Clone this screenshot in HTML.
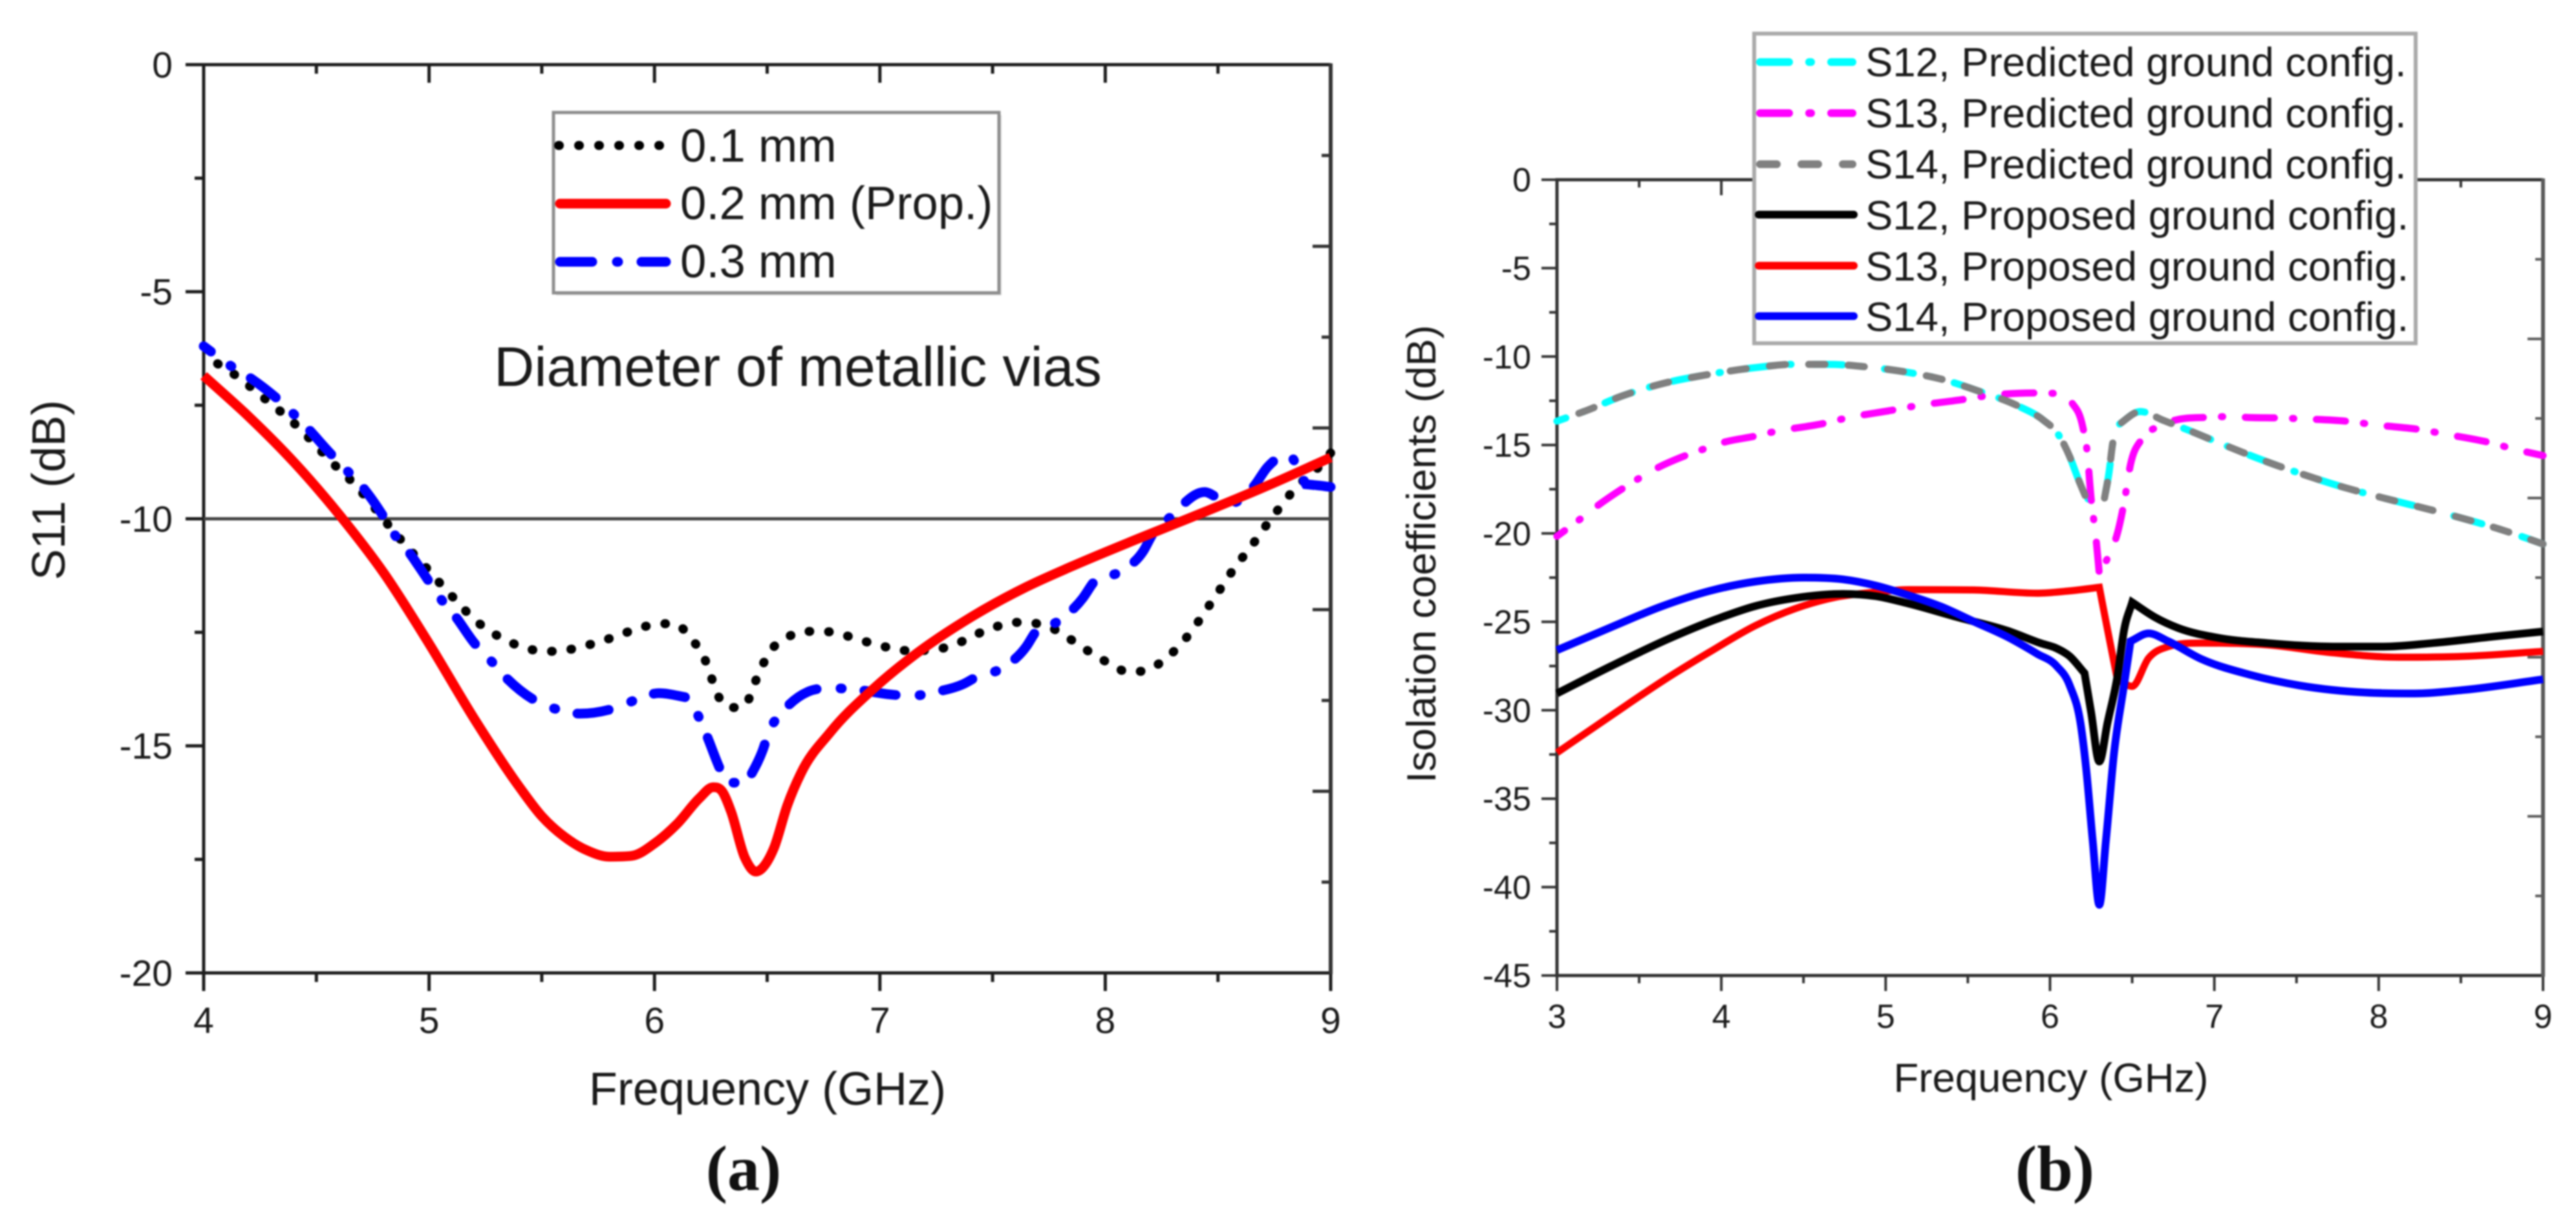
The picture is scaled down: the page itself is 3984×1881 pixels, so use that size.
<!DOCTYPE html>
<html lang="en">
<head>
<meta charset="utf-8">
<title>S11 and isolation coefficients charts</title>
<style>
html,body{margin:0;padding:0;background:#fff;width:3984px;height:1881px;overflow:hidden}
svg{display:block;filter:blur(1.3px)}
text{font-family:"Liberation Sans",sans-serif;fill:#1a1a1a}
.cap{font-family:"Liberation Serif",serif;font-weight:bold;font-size:100px;fill:#111}
</style>
</head>
<body>
<svg id="fig" xmlns="http://www.w3.org/2000/svg" width="3984" height="1881" viewBox="0 0 3984 1881">
  <rect x="0" y="0" width="3984" height="1881" fill="#fff"/>
  <g id="panelA"></g>
  <g id="panelB"></g>

  <g>
    <rect x="860" y="178" width="689" height="279" fill="#ddd"/>
    <rect x="856" y="174" width="689" height="279" fill="#fff" stroke="#8e8e8e" stroke-width="5"/>
    <g>
      <line x1="864" y1="225" x2="1030" y2="225" stroke="#000" stroke-width="14" stroke-linecap="round" stroke-dasharray="1 30"/>
      <text x="1052" y="250" font-size="72.5">0.1 mm</text>
    </g>
    <g>
      <line x1="866" y1="315" x2="1030" y2="315" stroke="#f00" stroke-width="15" stroke-linecap="round"/>
      <text x="1052" y="339" font-size="72.5">0.2 mm (Prop.)</text>
    </g>
    <g>
      <line x1="866" y1="405" x2="1030" y2="405" stroke="#00f" stroke-width="15" stroke-linecap="round" stroke-dasharray="50 38 2 36"/>
      <text x="1052" y="429" font-size="72.5">0.3 mm</text>
    </g>
  </g>
  <text x="764" y="597" font-size="86.3">Diameter of metallic vias</text>
  <text class="cap" x="1150" y="1841" text-anchor="middle">(a)</text>

  <g>
    <rect x="2713" y="52" width="1023" height="479" fill="#fff" stroke="#aaa" stroke-width="6"/>
    <g>
      <line x1="2722" y1="96" x2="2865" y2="96" stroke="#0ff" stroke-width="12" stroke-linecap="round" stroke-dasharray="45 31 3 31"/>
      <text x="2885" y="118" font-size="63.5">S12, Predicted ground config.</text>
    </g>
    <g>
      <line x1="2722" y1="175" x2="2865" y2="175" stroke="#f0f" stroke-width="12" stroke-linecap="round" stroke-dasharray="45 31 3 31"/>
      <text x="2885" y="197" font-size="63.5">S13, Predicted ground config.</text>
    </g>
    <g>
      <line x1="2722" y1="254" x2="2865" y2="254" stroke="#808080" stroke-width="12" stroke-linecap="round" stroke-dasharray="26 38"/>
      <text x="2885" y="276" font-size="63.5">S14, Predicted ground config.</text>
    </g>
    <g>
      <line x1="2720" y1="332" x2="2867" y2="332" stroke="#000" stroke-width="12" stroke-linecap="round"/>
      <text x="2885" y="355" font-size="63.5">S12, Proposed ground config.</text>
    </g>
    <g>
      <line x1="2720" y1="411" x2="2867" y2="411" stroke="#f00" stroke-width="12" stroke-linecap="round"/>
      <text x="2885" y="434" font-size="63.5">S13, Proposed ground config.</text>
    </g>
    <g>
      <line x1="2720" y1="489" x2="2867" y2="489" stroke="#00f" stroke-width="12" stroke-linecap="round"/>
      <text x="2885" y="512" font-size="63.5">S14, Proposed ground config.</text>
    </g>
  </g>
  <text class="cap" x="3178" y="1841" text-anchor="middle">(b)</text>
</svg>

<script>
// Panel (a) data
const aXTicks = [4, 5, 6, 7, 8, 9];
const aYTicks = [0, -5, -10, -15, -20];
const aRightMajor = [0, -4, -8, -12, -16, -20];
const aRightMinor = [-2, -6, -10, -14, -18];
const aRefLevel = -10;

const a01Freq = [4,4.05,4.13,4.27,4.4,4.59,4.66,4.83,4.89,5.01,5.07,5.13,5.19,5.26,5.34,5.43,5.52,5.61,5.69,5.78,5.86,5.95,6.04,6.1,6.16,6.22,6.25,6.28,6.34,6.41,6.44,6.475,6.51,6.58,6.67,6.75,6.84,6.92,7.01,7.1,7.18,7.27,7.36,7.44,7.52,7.61,7.7,7.785,7.86,7.93,8.02,8.1,8.18,8.26,8.32,8.38,8.43,8.48,8.53,8.58,8.64,8.69,8.74,8.8,8.85,8.92,9];
const a01Vals = [-6.4,-6.55,-6.8,-7.35,-7.89,-8.86,-9.19,-10.2,-10.55,-11.2,-11.54,-11.85,-12.17,-12.44,-12.67,-12.85,-12.92,-12.89,-12.8,-12.67,-12.53,-12.38,-12.31,-12.33,-12.63,-13.05,-13.46,-13.87,-14.16,-14.09,-13.68,-13.27,-12.94,-12.64,-12.48,-12.48,-12.56,-12.68,-12.8,-12.9,-12.9,-12.86,-12.71,-12.52,-12.37,-12.28,-12.31,-12.46,-12.7,-12.93,-13.19,-13.37,-13.34,-13.11,-12.84,-12.49,-12.14,-11.77,-11.4,-11.03,-10.66,-10.31,-9.97,-9.59,-9.28,-9,-8.55];

const a02Freq = [4,4.2,4.4,4.6,4.8,5,5.2,5.4,5.5,5.6,5.7,5.8,5.9,6,6.1,6.2,6.26,6.3,6.34,6.4,6.45,6.5,6.53,6.59,6.65,6.78,6.97,7.14,7.41,7.65,7.85,8.14,8.44,8.73,9];
const a02Vals = [-6.85,-7.75,-8.75,-9.9,-11.2,-12.75,-14.4,-15.9,-16.55,-17,-17.3,-17.44,-17.42,-17.15,-16.72,-16.15,-15.91,-16,-16.45,-17.45,-17.77,-17.55,-17.25,-16.3,-15.6,-14.7,-13.75,-13.05,-12.15,-11.5,-11.05,-10.45,-9.85,-9.25,-8.65];

const a03Freq = [4,4.11,4.21,4.32,4.39,4.46,4.56,4.63,4.7,4.79,4.84,4.91,4.99,5.05,5.12,5.2,5.27,5.34,5.47,5.57,5.67,5.83,5.92,6.02,6.15,6.2,6.23,6.29,6.32,6.41,6.48,6.51,6.56,6.68,6.79,6.89,7.05,7.14,7.24,7.37,7.43,7.53,7.65,7.69,7.79,7.9,7.95,8.06,8.17,8.21,8.28,8.44,8.51,8.56,8.66,8.72,8.81,8.89,8.97,9];
const a03Vals = [-6.2,-6.6,-6.91,-7.33,-7.65,-8,-8.55,-8.91,-9.27,-9.89,-10.3,-10.73,-11.31,-11.75,-12.17,-12.73,-13.1,-13.49,-14,-14.2,-14.29,-14.16,-13.98,-13.84,-13.94,-14.4,-14.75,-15.5,-15.81,-15.81,-15.1,-14.66,-14.3,-13.81,-13.73,-13.76,-13.87,-13.9,-13.82,-13.64,-13.48,-13.32,-12.81,-12.5,-12.26,-11.75,-11.39,-11.18,-10.7,-10.34,-10,-9.41,-9.57,-9.65,-9.28,-8.86,-8.59,-9.24,-9.28,-9.3];

// Panel (b) data
const bXTicks = [3, 4, 5, 6, 7, 8, 9];
const bYTicks = [0, -5, -10, -15, -20, -25, -30, -35, -40, -45];
const bRightMajor = [0, -9, -18, -27, -36, -45];
const bRightMinor = [-4.5, -13.5, -22.5, -31.5, -40.5];

const bPredS12Freq = [3,3.18,3.39,3.63,3.93,4.23,4.43,4.65,4.9,5.14,5.34,5.56,5.8,5.96,6.05,6.12,6.17,6.22,6.28,6.33,6.36,6.38,6.41,6.55,6.69,6.82,7.06,7.32,7.52,7.79,8.03,8.33,8.53,8.77,9];
const bPredS12Vals = [-13.65,-13.05,-12.25,-11.56,-11,-10.6,-10.44,-10.44,-10.6,-10.9,-11.28,-11.93,-12.77,-13.6,-14.4,-15.66,-16.88,-18,-18.2,-18.08,-16.5,-15,-13.9,-13.11,-13.61,-14.08,-15.0,-15.95,-16.6,-17.4,-18,-18.7,-19.2,-19.86,-20.6];

const bPredS13Freq = [3,3.14,3.23,3.41,3.5,3.61,3.79,3.89,4.01,4.21,4.31,4.64,4.74,5.06,5.17,5.49,5.59,5.92,6.02,6.12,6.2,6.225,6.25,6.28,6.3,6.36,6.41,6.45,6.49,6.56,6.66,6.78,6.98,7.09,7.2,7.42,7.53,7.85,7.96,8.28,8.39,8.7,8.81,9];
const bPredS13Vals = [-20.16,-19.2,-18.55,-17.4,-16.88,-16.3,-15.57,-15.24,-14.86,-14.49,-14.27,-13.75,-13.52,-13,-12.81,-12.4,-12.25,-12.06,-12.08,-12.4,-14,-15.3,-18,-20.3,-22.3,-21.2,-20,-18.3,-16.1,-14.65,-13.95,-13.56,-13.43,-13.39,-13.44,-13.48,-13.52,-13.7,-13.84,-14.17,-14.36,-14.92,-15.2,-15.6];

const bPredS14Freq = [3,3.18,3.39,3.63,3.93,4.23,4.43,4.65,4.9,5.14,5.34,5.56,5.8,5.96,6.05,6.12,6.17,6.22,6.28,6.33,6.36,6.38,6.41,6.55,6.69,6.82,7.06,7.32,7.52,7.79,8.03,8.33,8.53,8.77,9];
const bPredS14Vals = [-13.65,-13.05,-12.25,-11.56,-11,-10.6,-10.44,-10.44,-10.6,-10.9,-11.28,-11.93,-12.77,-13.6,-14.4,-15.66,-16.88,-18,-18.2,-18.08,-16.5,-15,-13.9,-13.11,-13.61,-14.08,-15.0,-15.95,-16.6,-17.4,-18,-18.7,-19.2,-19.86,-20.6];

const bPropS12Freq = [3,3.33,3.67,3.97,4.21,4.45,4.74,4.94,5.14,5.44,5.74,5.94,6.04,6.12,6.21,6.25,6.3,6.35,6.41,6.45,6.5,6.64,6.78,7.02,7.32,7.72,8.03,8.33,8.73,9];
const bPropS12Vals = [-29.05,-27.5,-26,-24.85,-24.1,-23.65,-23.42,-23.55,-23.97,-24.75,-25.5,-26.2,-26.5,-26.95,-27.9,-30.1,-32.9,-30.7,-28.1,-25.5,-23.9,-24.75,-25.35,-25.9,-26.2,-26.4,-26.4,-26.2,-25.8,-25.55];

const bPropS13Freq = [3,3.33,3.65,3.93,4.21,4.45,4.7,4.94,5.14,5.54,5.92,6.12,6.3,6.35,6.41,6.5,6.6,6.72,6.92,7.32,7.72,8.12,8.52,9];
const bPropS13Vals = [-32.4,-30.3,-28.3,-26.7,-25.2,-24.25,-23.6,-23.32,-23.18,-23.2,-23.38,-23.25,-23.05,-25.45,-28.25,-28.65,-27.05,-26.4,-26.2,-26.3,-26.75,-27,-26.95,-26.67];

const bPropS14Freq = [3,3.33,3.63,3.93,4.21,4.5,4.74,4.94,5.14,5.34,5.54,5.74,5.92,6.04,6.12,6.19,6.22,6.26,6.3,6.34,6.39,6.45,6.49,6.6,6.72,6.92,7.22,7.52,7.92,8.22,8.52,9];
const bPropS14Vals = [-26.6,-25.3,-24.15,-23.25,-22.72,-22.5,-22.6,-22.95,-23.5,-24.15,-25,-25.85,-26.8,-27.5,-28.6,-31,-33.3,-37.4,-41,-37.4,-32.4,-28.6,-26.1,-25.65,-26.1,-27.1,-28,-28.6,-29,-29.05,-28.85,-28.25];

const SVGNS = 'http://www.w3.org/2000/svg';

function mk(parent, tag, props) {
  const el = document.createElementNS(SVGNS, tag);
  for (const k in props) el.setAttribute(k, props[k]);
  parent.appendChild(el);
  return el;
}

function linScale(d0, d1, r0, r1) {
  return v => r0 + (v - d0) * (r1 - r0) / (d1 - d0);
}

// Smooth path through the data; nodes where the slope changes abruptly stay as sharp corners
function curvePath(xs, ys) {
  const n = xs.length;
  const dx = [], m = [], tL = [], tR = [];
  for (let i = 0; i < n - 1; i++) {
    dx[i] = xs[i + 1] - xs[i];
    m[i] = (ys[i + 1] - ys[i]) / dx[i];
  }
  tR[0] = m[0];
  tL[n - 1] = m[n - 2];
  for (let i = 1; i < n - 1; i++) {
    const a = Math.abs(m[i - 1]), b = Math.abs(m[i]);
    const hi = Math.max(a, b), lo = Math.min(a, b);
    if (hi > 1.2 && hi > 5 * Math.max(lo, 0.02)) {
      tL[i] = m[i - 1];
      tR[i] = m[i];
    } else if (m[i - 1] * m[i] <= 0) {
      tL[i] = tR[i] = 0;
    } else {
      let t = (m[i - 1] * dx[i] + m[i] * dx[i - 1]) / (dx[i] + dx[i - 1]);
      if (Math.abs(t) > 3 * lo) t = Math.sign(t) * 3 * lo;
      tL[i] = tR[i] = t;
    }
  }
  let d = 'M' + xs[0].toFixed(1) + ' ' + ys[0].toFixed(1);
  for (let i = 0; i < n - 1; i++) {
    const h = dx[i] / 3;
    d += 'C' + (xs[i] + h).toFixed(1) + ' ' + (ys[i] + tR[i] * h).toFixed(1) + ' ' +
         (xs[i + 1] - h).toFixed(1) + ' ' + (ys[i + 1] - tL[i + 1] * h).toFixed(1) + ' ' +
         xs[i + 1].toFixed(1) + ' ' + ys[i + 1].toFixed(1);
  }
  return d;
}

function drawAxes(g, o) {
  const sx = o.sx, sy = o.sy;
  const L = sx(o.xMin), R = sx(o.xMax), T = sy(o.yMax), B = sy(o.yMin);
  const st = { stroke: o.color, 'stroke-width': o.tickW };
  const stR = { stroke: o.rightColor, 'stroke-width': o.tickW };

  o.xTicks.forEach((v, i) => {
    const x = sx(v);
    const tb = mk(g, 'line', Object.assign({ x1: x, x2: x, y1: B, y2: B + o.major }, st));
    
    
    const tt = mk(g, 'line', Object.assign({ x1: x, x2: x, y1: T, y2: T + o.major }, st));
    
    
    const lb = mk(g, 'text', { x: x, y: o.xLabelY, 'text-anchor': 'middle', 'font-size': o.tickFont });
    lb.textContent = String(v);
    
    
    if (i < o.xTicks.length - 1) {
      const mx = sx((v + o.xTicks[i + 1]) / 2);
      const mb = mk(g, 'line', Object.assign({ x1: mx, x2: mx, y1: B, y2: B + o.minor }, st));
      
      
      const mt = mk(g, 'line', Object.assign({ x1: mx, x2: mx, y1: T, y2: T + o.minor }, st));
      
      
    }
  });

  o.yTicks.forEach((v, i) => {
    const y = sy(v);
    const tl = mk(g, 'line', Object.assign({ x1: L - o.major, x2: L, y1: y, y2: y }, st));
    
    
    const lb = mk(g, 'text', { x: o.yLabelX, y: y + o.tickFont * 0.35, 'text-anchor': 'end', 'font-size': o.tickFont });
    lb.textContent = String(v);
    
    
    if (i < o.yTicks.length - 1) {
      const my = sy((v + o.yTicks[i + 1]) / 2);
      const ml = mk(g, 'line', Object.assign({ x1: L - o.minor, x2: L, y1: my, y2: my }, st));
      
      
    }
  });

  o.rightMajor.forEach(v => {
    const y = sy(v);
    const tr = mk(g, 'line', Object.assign({ x1: R - o.major, x2: R, y1: y, y2: y }, stR));
    
    
  });
  o.rightMinor.forEach(v => {
    const y = sy(v);
    const mr = mk(g, 'line', Object.assign({ x1: R - o.minor, x2: R, y1: y, y2: y }, stR));
    
    
  });

  const frame = mk(g, 'path', { d: 'M' + R + ' ' + T + 'L' + L + ' ' + T + 'L' + L + ' ' + B + 'L' + R + ' ' + B, fill: 'none', stroke: o.color, 'stroke-width': o.axisW });
  
  

  const rightAxis = mk(g, 'line', { x1: R, x2: R, y1: T - 2, y2: B + 2, stroke: o.rightColor, 'stroke-width': o.axisW + 1 });
  
  

  const xt = mk(g, 'text', { x: o.xTitleX, y: o.xTitleY, 'text-anchor': 'middle', 'font-size': o.titleFont });
  xt.textContent = o.xTitle;
  
  

  const yt = mk(g, 'text', { x: 0, y: 0, 'text-anchor': 'middle', 'font-size': o.titleFont, transform: 'translate(' + o.yTitleX + ' ' + o.yTitleY + ') rotate(-90)' });
  yt.textContent = o.yTitle;
  
  
}

function drawSeries(g, sx, sy, freq, vals, style) {
  const d = curvePath(freq.map(sx), vals.map(sy));
  return mk(g, 'path', Object.assign({ d: d, fill: 'none', 'stroke-linejoin': 'miter', 'stroke-miterlimit': 3, 'stroke-linecap': 'butt' }, style));
}

/* ---------- Panel (a) ---------- */
const gA = document.getElementById('panelA');
const ax = linScale(4, 9, 315, 2058);
const ay = linScale(0, -20, 100, 1505);

drawAxes(gA, {
  sx: ax, sy: ay, xMin: 4, xMax: 9, yMin: -20, yMax: 0,
  xTicks: aXTicks, yTicks: aYTicks, rightMajor: aRightMajor, rightMinor: aRightMinor,
  major: 28, minor: 14, tickW: 5, axisW: 5, color: '#1c1c1c', rightColor: '#333',
  tickFont: 57, titleFont: 72,
  xLabelY: 1598, yLabelX: 267,
  xTitle: 'Frequency (GHz)', xTitleX: 1187, xTitleY: 1709,
  yTitle: 'S11 (dB)', yTitleX: 100, yTitleY: 758
});

const refLine = mk(gA, 'line', { x1: ax(4), x2: ax(9), y1: ay(aRefLevel), y2: ay(aRefLevel), stroke: '#444', 'stroke-width': 5 });



const lineA01 = drawSeries(gA, ax, ay, a01Freq, a01Vals, { stroke: '#000', 'stroke-width': 14, 'stroke-linecap': 'round', 'stroke-dasharray': '1 29.2', 'stroke-dashoffset': 5 });



const lineA03 = drawSeries(gA, ax, ay, a03Freq, a03Vals, { stroke: '#00f', 'stroke-width': 15, 'stroke-linecap': 'round', 'stroke-dasharray': '49 37 2 35', 'stroke-dashoffset': 35 });



const lineA02 = drawSeries(gA, ax, ay, a02Freq, a02Vals, { stroke: '#f00', 'stroke-width': 15 });



/* ---------- Panel (b) ---------- */
const gB = document.getElementById('panelB');
const bx = linScale(3, 9, 2408, 3933);
const by = linScale(0, -45, 278, 1509);

drawAxes(gB, {
  sx: bx, sy: by, xMin: 3, xMax: 9, yMin: -45, yMax: 0,
  xTicks: bXTicks, yTicks: bYTicks, rightMajor: bRightMajor, rightMinor: bRightMinor,
  major: 24, minor: 12, tickW: 4, axisW: 5, color: '#333', rightColor: '#5a5a5a',
  tickFont: 52, titleFont: 63.5,
  xLabelY: 1590, yLabelX: 2368,
  xTitle: 'Frequency (GHz)', xTitleX: 3172, xTitleY: 1689,
  yTitle: 'Isolation coefficients (dB)', yTitleX: 2220, yTitleY: 857
});

const lineBPredS12 = drawSeries(gB, bx, by, bPredS12Freq, bPredS12Vals, { stroke: '#0ff', 'stroke-width': 11, 'stroke-linecap': 'round', 'stroke-dasharray': '45 28 2 35', 'stroke-dashoffset': 30.5 });



const lineBPredS13 = drawSeries(gB, bx, by, bPredS13Freq, bPredS13Vals, { stroke: '#f0f', 'stroke-width': 11, 'stroke-linecap': 'round', 'stroke-dasharray': '45 28 2 35', 'stroke-dashoffset': 30.5 });



const lineBPredS14 = drawSeries(gB, bx, by, bPredS14Freq, bPredS14Vals, { stroke: '#808080', 'stroke-width': 11, 'stroke-linecap': 'round', 'stroke-dasharray': '25 36', 'stroke-dashoffset': 25 });



const lineBPropS13 = drawSeries(gB, bx, by, bPropS13Freq, bPropS13Vals, { stroke: '#f00', 'stroke-width': 11 });



const lineBPropS12 = drawSeries(gB, bx, by, bPropS12Freq, bPropS12Vals, { stroke: '#000', 'stroke-width': 12 });



const lineBPropS14 = drawSeries(gB, bx, by, bPropS14Freq, bPropS14Vals, { stroke: '#00f', 'stroke-width': 12 });


</script>
</body>
</html>
